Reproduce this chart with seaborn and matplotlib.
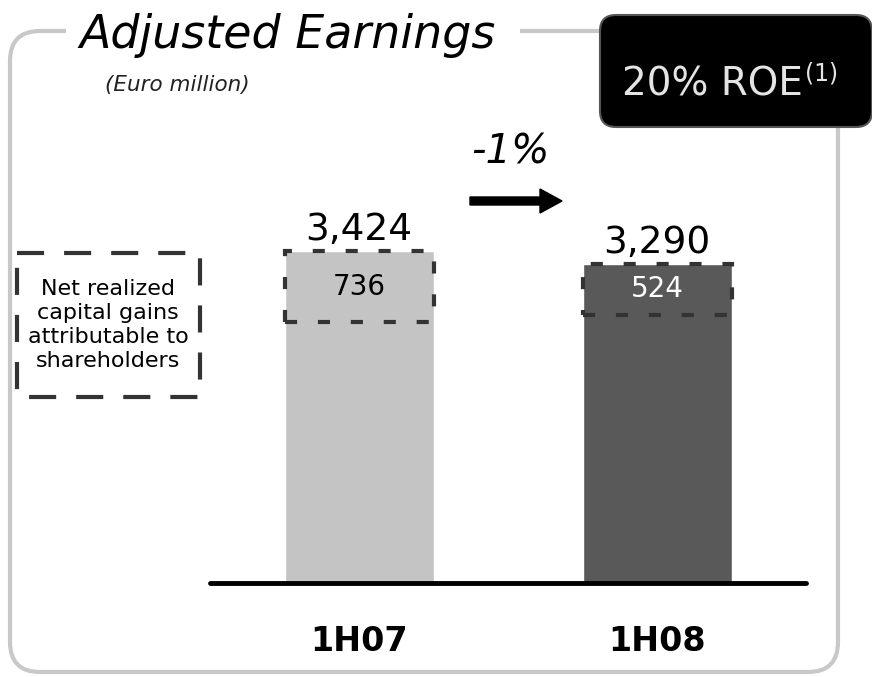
import matplotlib
matplotlib.use("Agg")
import matplotlib.pyplot as plt
import seaborn as sns
from matplotlib.patches import Rectangle, FancyBboxPatch

# data (Euro million)
periods = ["1H07", "1H08"]
earnings = [3424, 3290]
capital_gains = [736, 524]
bar_colors = ["#c4c4c4", "#595959"]
gain_text_colors = ["black", "white"]
change_label = "-1%"
roe_label = "20% ROE"
legend_label = "Net realized\ncapital gains\nattributable to\nshareholders"

sns.set_theme(style="white")
plt.rcParams["font.family"] = ["DejaVu Sans"]
plt.rcParams["text.color"] = "black"
plt.rcParams["xtick.color"] = "black"

fig = plt.figure(figsize=(8.72, 6.77), dpi=100)

# overlay in pixel coordinates for the frame and annotations
ax0 = fig.add_axes([0, 0, 1, 1])
ax0.set_xlim(0, 872)
ax0.set_ylim(677, 0)
ax0.axis("off")

# rounded frame with gap for the title
frame = FancyBboxPatch((10, 31), 828, 641, boxstyle="round,pad=0,rounding_size=30",
                       fill=False, edgecolor="#c8c8c8", lw=3, zorder=1)
ax0.add_patch(frame)
ax0.add_patch(Rectangle((66, 20), 454, 24, facecolor="white", edgecolor="none", zorder=2))

ax0.text(79, 48, "Adjusted Earnings", fontsize=33, style="italic", ha="left",
         va="baseline", zorder=3)
ax0.text(105, 91, "(Euro million)", fontsize=15.5, style="italic", ha="left",
         va="baseline", color="#222222", zorder=3)

# ROE box
roe_box = FancyBboxPatch((600, 15), 272, 112, boxstyle="round,pad=0,rounding_size=16",
                         facecolor="black", edgecolor="#555555", lw=1.5, zorder=4)
ax0.add_patch(roe_box)
t = ax0.text(622, 96, roe_label, fontsize=28, color="#e4e4e4", ha="left",
             va="baseline", zorder=5)
ax0.annotate("(1)", xy=(1.01, 0.48), xycoords=t, fontsize=17, color="#e4e4e4",
             ha="left", va="bottom", zorder=5)

# change arrow
ax0.text(510, 152, change_label, fontsize=29, style="italic", ha="center",
         va="center", zorder=3)
ax0.arrow(470, 201, 92, 0, width=8, head_width=24, head_length=22,
          length_includes_head=True, color="black", zorder=3)

# legend box
ax0.add_patch(Rectangle((17, 253), 183, 144, fill=False, edgecolor="#333333", lw=3,
                        linestyle=(0, (6.5, 4.8)), zorder=3))
ax0.text(108, 325, legend_label, fontsize=16, ha="center", va="center",
         linespacing=1.25, zorder=3)

# main bar chart
ax = fig.add_axes([210 / 872, 94 / 677, 596 / 872, 484.8 / 677])
ax.set_facecolor("none")
sns.barplot(x=periods, y=earnings, hue=periods, palette=bar_colors, width=0.5,
            legend=False, saturation=1, ax=ax)
ax.set_xlim(-0.5, 1.5)
ax.set_ylim(0, 5000)

for c in ax.containers:
    ax.bar_label(c, labels=[f"{v:,.0f}" for v in c.datavalues], fontsize=27, padding=2)

for i, (tot, g) in enumerate(zip(earnings, capital_gains)):
    ax.add_patch(Rectangle((i - 0.25, tot - g), 0.5, g, fill=False, edgecolor="#333333",
                           lw=3, linestyle=(0, (2.9, 5)), zorder=4, clip_on=False))
    ax.text(i, tot - g / 2, f"{g}", fontsize=20, ha="center", va="center",
            color=gain_text_colors[i], zorder=5)

ax.plot([-0.5, 1.5], [0, 0], color="black", lw=3.5, solid_capstyle="round",
        clip_on=False, zorder=5)

sns.despine(ax=ax, left=True, bottom=True)
ax.set_yticks([])
ax.set_xlabel("")
ax.set_ylabel("")
ax.tick_params(axis="x", length=0, pad=30)
for lbl in ax.get_xticklabels():
    lbl.set_fontsize(24)
    lbl.set_fontweight("bold")

fig.savefig("out.png", dpi=100)
